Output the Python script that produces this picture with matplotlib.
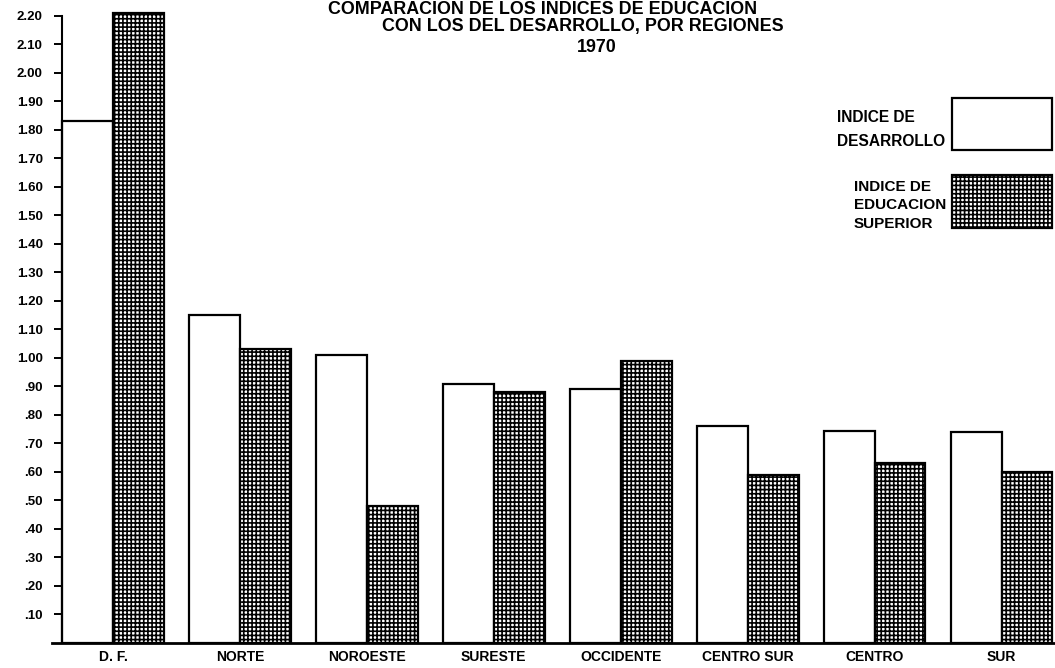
import numpy as np
import matplotlib.pyplot as plt
from matplotlib.patches import Rectangle

# Datos (indices por region, 1970)
regiones = ['D. F.', 'NORTE', 'NOROESTE', 'SURESTE', 'OCCIDENTE', 'CENTRO SUR', 'CENTRO', 'SUR']
indice_desarrollo = [1.83, 1.15, 1.01, 0.91, 0.89, 0.76, 0.745, 0.74]
indice_educacion = [2.21, 1.03, 0.48, 0.88, 0.99, 0.59, 0.63, 0.60]
yticks = [round(0.1 * i, 2) for i in range(1, 23)]
ytick_labels = ['%.2f' % v if v >= 1 else ('%.2f' % v)[1:] for v in yticks]

plt.rcParams['font.family'] = ['Liberation Sans', 'DejaVu Sans']
plt.rcParams['font.weight'] = 'bold'
plt.rcParams['hatch.linewidth'] = 1.2

W, H = 1055, 668
fig = plt.figure(figsize=(W / 100, H / 100), dpi=100)
ax = fig.add_axes([52 / W, 25 / H, 1003 / W, 633 / H])

x = np.arange(len(regiones))
bw = 0.40
ax.bar(x, indice_desarrollo, width=bw, align='edge', color='white',
       edgecolor='black', linewidth=1.6, zorder=2)
ax.bar(x + bw, indice_educacion, width=bw, align='edge', color='white',
       edgecolor='black', hatch='++++', linewidth=1.6, zorder=2)

ax.set_xlim(-0.08, 7.82)
ax.set_ylim(0, 2.22)

for s in ['top', 'right']:
    ax.spines[s].set_visible(False)
ax.spines['left'].set_position(('data', 0))
ax.spines['left'].set_bounds(0, 2.2)
ax.spines['left'].set_linewidth(1.5)
ax.spines['bottom'].set_linewidth(2)

ax.set_yticks(yticks)
ax.set_yticklabels(ytick_labels, fontsize=9.5, fontweight='bold')
ax.tick_params(axis='y', direction='out', length=6, width=1.4, pad=8)

ax.set_xticks(x + bw)
ax.set_xticklabels(regiones, fontsize=10, fontweight='bold')
ax.tick_params(axis='x', length=0, pad=5)

# Titulo
fig.text(328 / W, 1 - 1 / H, 'COMPARACION DE LOS INDICES DE EDUCACION',
         ha='left', va='top', fontsize=12.9, fontweight='bold')
fig.text(583 / W, 1 - 27 / H, 'CON LOS DEL DESARROLLO, POR REGIONES',
         ha='center', va='center', fontsize=12.9, fontweight='bold')
fig.text(597 / W, 1 - 47 / H, '1970',
         ha='center', va='center', fontsize=12.9, fontweight='bold')

# Leyenda
fig.add_artist(Rectangle((952 / W, 1 - 150 / H), 100 / W, 52 / H,
                         transform=fig.transFigure, facecolor='white',
                         edgecolor='black', linewidth=1.6))
fig.add_artist(Rectangle((952 / W, 1 - 228 / H), 100 / W, 53 / H,
                         transform=fig.transFigure, facecolor='white',
                         edgecolor='black', hatch='++++', linewidth=1.6))
for txt, yy in [('INDICE DE', 118), ('DESARROLLO', 142)]:
    fig.text(837 / W, 1 - yy / H, txt, ha='left', va='center',
             fontsize=11.2, fontweight='bold')
for txt, yy in [('INDICE DE', 187), ('EDUCACION', 205), ('SUPERIOR', 224)]:
    fig.text(854 / W, 1 - yy / H, txt, ha='left', va='center',
             fontsize=11, fontweight='bold')

fig.savefig('out.png', dpi=100)
